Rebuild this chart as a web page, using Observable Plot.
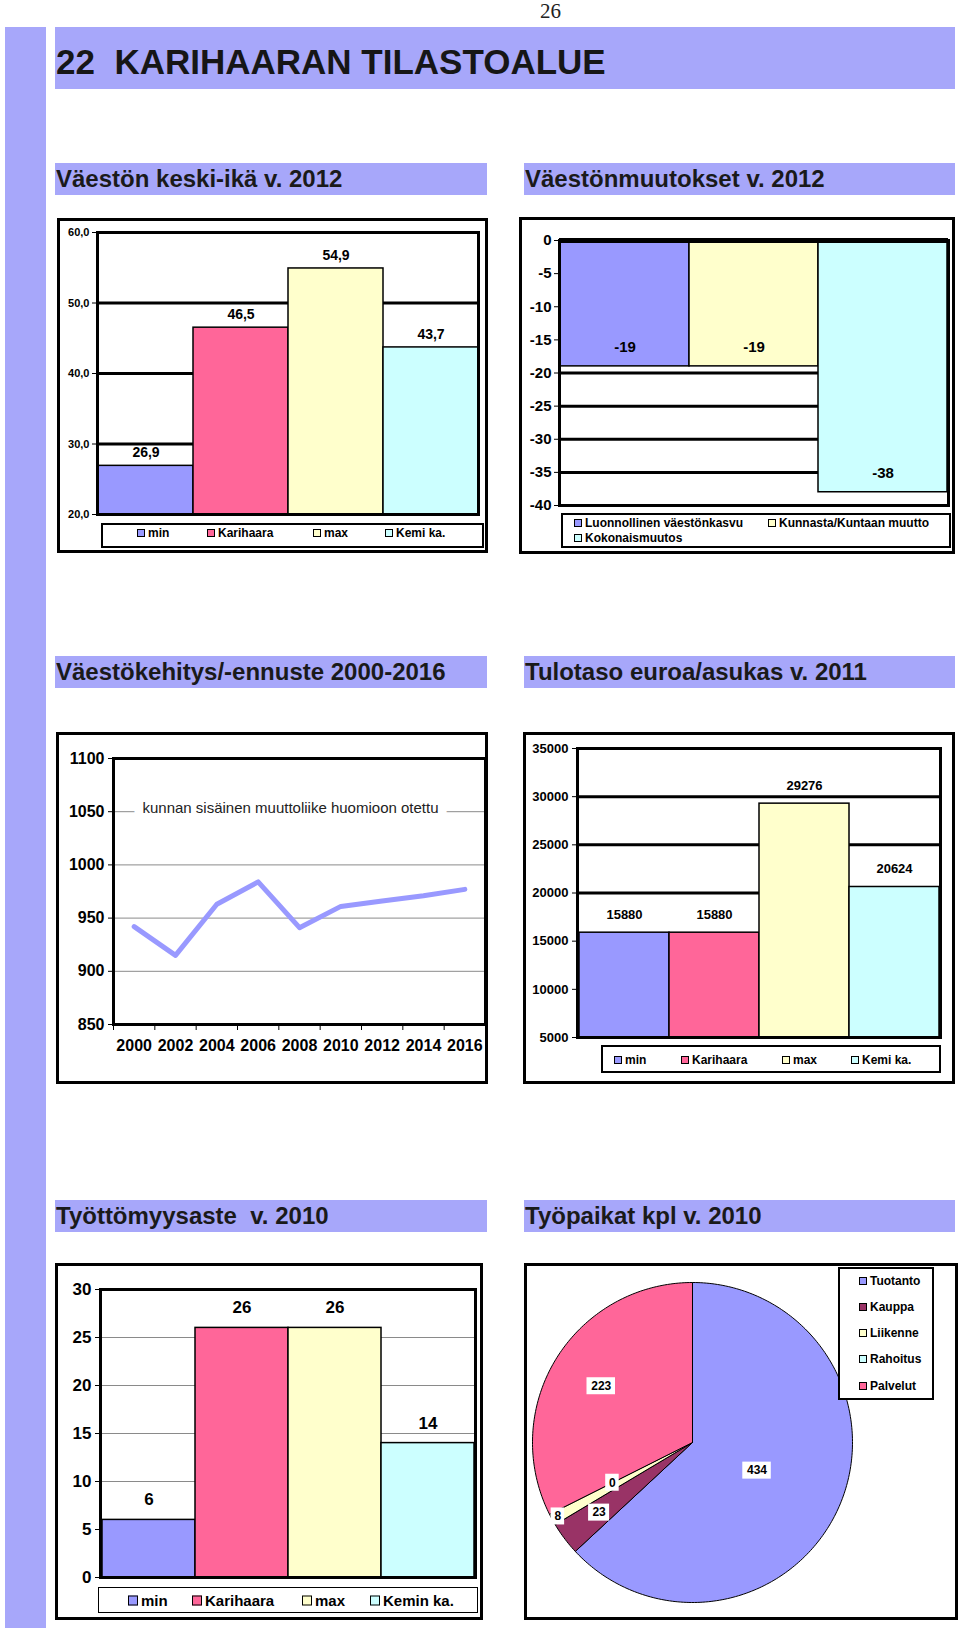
<!DOCTYPE html>
<html><head><meta charset="utf-8">
<script src="https://cdn.jsdelivr.net/npm/d3@7"></script>
<script src="https://cdn.jsdelivr.net/npm/@observablehq/plot@0.6"></script>
<style>
body{margin:0;background:#fff;}
#page{position:relative;width:960px;height:1628px;overflow:hidden;font-family:"Liberation Sans",Arial,sans-serif;background:#fff;}
.band{position:absolute;background:#a7a7fa;}
.title{position:absolute;left:55px;top:27px;width:900px;height:62px;background:#a7a7fa;font-weight:bold;font-size:35px;line-height:70px;color:#161616;padding-left:1px;box-sizing:border-box;white-space:nowrap;overflow:hidden;}
.sec{position:absolute;background:#a7a7fa;height:32px;font-weight:bold;font-size:24px;line-height:32px;color:#1a1a1a;padding-left:1px;box-sizing:border-box;white-space:nowrap;overflow:hidden;}
.box{position:absolute;border:3px solid #000;box-sizing:border-box;pointer-events:none;}
.chart{position:absolute;}
.legend{position:absolute;border:2px solid #000;box-sizing:border-box;background:#fff;font-weight:bold;font-size:12px;color:#000;}
.item{position:absolute;white-space:nowrap;display:flex;align-items:center;transform:translateY(-50%);}
.sw{display:inline-block;width:6px;height:6px;border:1px solid #000;margin-right:3px;}
#pagenum{position:absolute;left:540px;top:0px;font-family:"Liberation Serif","DejaVu Serif",serif;font-size:21px;line-height:22px;color:#222;}
</style></head>
<body>
<div id="page">
  <div id="pagenum">26</div>
  <div class="band" style="left:5px;top:27px;width:41px;height:1601px;"></div>
  <div class="title">22&nbsp;&nbsp;KARIHAARAN TILASTOALUE</div>

  <div class="sec" style="left:55px;top:163px;width:432px;">Väestön keski-ikä v. 2012</div>
  <div class="sec" style="left:524px;top:163px;width:431px;">Väestönmuutokset v. 2012</div>
  <div class="sec" style="left:55px;top:656px;width:432px;">Väestökehitys/-ennuste 2000-2016</div>
  <div class="sec" style="left:524px;top:656px;width:431px;">Tulotaso euroa/asukas v. 2011</div>
  <div class="sec" style="left:55px;top:1200px;width:432px;">Työttömyysaste&nbsp; v. 2010</div>
  <div class="sec" style="left:524px;top:1200px;width:431px;">Työpaikat kpl v. 2010</div>

  <div class="chart" id="c1" style="left:57px;top:218px;"></div>
  <div class="chart" id="c2" style="left:519px;top:217px;"></div>
  <div class="chart" id="c3" style="left:56px;top:732px;"></div>
  <div class="chart" id="c4" style="left:523px;top:732px;"></div>
  <div class="chart" id="c5" style="left:55px;top:1263px;"></div>
  <div class="chart" id="c6" style="left:524px;top:1263px;"></div>

  <div class="legend" id="l1" style="left:101px;top:523px;width:383px;height:25px;"></div>
  <div class="legend" id="l2" style="left:561px;top:513px;width:390px;height:35px;"></div>
  <div class="legend" id="l4" style="left:601px;top:1045px;width:340px;height:28px;"></div>
  <div class="legend" id="l5" style="left:98px;top:1587px;width:380px;height:26px;border-width:1.5px;font-size:15px;"></div>
  <div class="legend" id="l6" style="left:838px;top:1267px;width:96px;height:133px;"></div>

  <div class="box" style="left:57px;top:218px;width:431px;height:335px;"></div>
  <div class="box" style="left:519px;top:217px;width:436px;height:337px;"></div>
  <div class="box" style="left:56px;top:732px;width:432px;height:352px;"></div>
  <div class="box" style="left:523px;top:732px;width:432px;height:352px;"></div>
  <div class="box" style="left:55px;top:1263px;width:428px;height:357px;"></div>
  <div class="box" style="left:524px;top:1263px;width:434px;height:357px;"></div>
</div>
<script>
// ---------- DATA ----------
const ageCats = ["min", "Karihaara", "max", "Kemi ka."];
const ageValues = [26.9, 46.5, 54.9, 43.7];
const ageTicks = [20, 30, 40, 50, 60];

const changeCats = ["Luonnollinen väestönkasvu", "Kunnasta/Kuntaan muutto", "Kokonaismuutos"];
const changeValues = [-19, -19, -38];
const changeTicks = [0, -5, -10, -15, -20, -25, -30, -35, -40];

const popYears = [2000, 2002, 2004, 2006, 2008, 2010, 2012, 2014, 2016];
const popValues = [942, 915, 963, 984, 941, 961, 966, 971, 977];
const popTicks = [850, 900, 950, 1000, 1050, 1100];
const popNote = "kunnan sisäinen muuttoliike huomioon otettu";

const incomeCats = ["min", "Karihaara", "max", "Kemi ka."];
const incomeValues = [15880, 15880, 29276, 20624];
const incomeTicks = [5000, 10000, 15000, 20000, 25000, 30000, 35000];

const unempCats = ["min", "Karihaara", "max", "Kemin ka."];
const unempValues = [6, 26, 26, 14];
const unempTicks = [0, 5, 10, 15, 20, 25, 30];

const jobCats = ["Tuotanto", "Kauppa", "Liikenne", "Rahoitus", "Palvelut"];
const jobValues = [434, 23, 8, 0, 223];

// ---------- STYLE ----------
const col4 = ["#9999ff", "#ff6699", "#ffffcc", "#ccffff"];
const col3 = ["#9999ff", "#ffffcc", "#ccffff"];
const jobColors = ["#9999ff", "#993366", "#ffffcc", "#ccffff", "#ff6699"];
const jobLabelRadius = [0.44, 0.73, 0.96, 0.56, 0.67];
const arial = "'Liberation Sans', Arial, sans-serif";
const baseStyle = (fs, fam) => ({fontFamily: fam || arial, fontWeight: "bold", fontSize: fs + "px", background: "transparent", overflow: "visible", color: "#000"});
const fmtFi1 = d => d.toFixed(1).replace(".", ",");

function legend(id, cats, colors, pos, sw) {
  const el = document.getElementById(id);
  cats.forEach((c, i) => {
    const it = document.createElement("div");
    it.className = "item";
    it.style.left = pos[i][0] + "px";
    it.style.top = pos[i][1] + "px";
    const s = document.createElement("span");
    s.className = "sw";
    s.style.background = colors[i];
    if (sw) { s.style.width = sw + "px"; s.style.height = sw + "px"; }
    it.appendChild(s);
    it.appendChild(document.createTextNode(c));
    el.appendChild(it);
  });
}

// ---------- CHART 1 ----------
const ageData = ageCats.map((c, i) => ({cat: c, v: ageValues[i]}));
document.getElementById("c1").appendChild(Plot.plot({
  width: 431, height: 335, marginLeft: 40, marginRight: 10, marginTop: 14, marginBottom: 39,
  style: baseStyle(11),
  x: {domain: ageCats, padding: 0, axis: null},
  y: {domain: [20, 60]},
  color: {domain: ageCats, range: col4},
  marks: [
    Plot.ruleY(ageTicks.slice(1, -1), {stroke: "#000", strokeWidth: 3}),
    Plot.barY(ageData, {x: "cat", y1: 20, y2: "v", fill: "cat", stroke: "#000", strokeWidth: 1.5}),
    Plot.text(ageData, {x: "cat", y: "v", text: d => fmtFi1(d.v), dy: -13, fontSize: 14}),
    Plot.axisY({ticks: ageTicks, tickFormat: fmtFi1, tickSize: 5, tickPadding: 3, label: null}),
    Plot.frame({stroke: "#000", strokeWidth: 3})
  ]
}));
legend("l1", ageCats, col4, [[34, 8], [104, 8], [210, 8], [282, 8]]);

// ---------- CHART 2 ----------
const changeData = changeCats.map((c, i) => ({cat: c, v: changeValues[i]}));
document.getElementById("c2").appendChild(Plot.plot({
  width: 436, height: 337, marginLeft: 40, marginRight: 7, marginTop: 23, marginBottom: 49,
  style: baseStyle(15),
  x: {domain: changeCats, padding: 0, axis: null},
  y: {domain: [-40, 0]},
  color: {domain: changeCats, range: col3},
  marks: [
    Plot.ruleY(changeTicks.slice(1, -1), {stroke: "#000", strokeWidth: 3}),
    Plot.barY(changeData, {x: "cat", y1: 0, y2: "v", fill: "cat", stroke: "#000", strokeWidth: 1.5}),
    Plot.text(changeData, {x: "cat", y: "v", text: d => String(d.v), dy: -19, fontSize: 15}),
    Plot.axisY({ticks: changeTicks, tickFormat: d => String(d), tickSize: 5, tickPadding: 3, label: null}),
    Plot.frame({stroke: "#000", strokeWidth: 3}),
    Plot.ruleY([0], {stroke: "#000", strokeWidth: 5})
  ]
}));
legend("l2", changeCats, col3, [[11, 8], [205, 8], [11, 23]]);

// ---------- CHART 3 ----------
const popData = popYears.map((y, i) => ({year: y, v: popValues[i]}));
const bandEdges = popYears.map(y => y - 1).concat([popYears[popYears.length - 1] + 1]);
document.getElementById("c3").appendChild(Plot.plot({
  width: 432, height: 352, marginLeft: 57, marginRight: 3, marginTop: 26, marginBottom: 60,
  style: baseStyle(16),
  x: {domain: [bandEdges[0], bandEdges[bandEdges.length - 1]]},
  y: {domain: [850, 1100]},
  marks: [
    Plot.ruleY(popTicks.slice(1, -1), {stroke: "#8a8a8a", strokeWidth: 1}),
    Plot.text([popNote], {frameAnchor: "top", dx: -9, dy: 44, text: d => d, fontSize: 15, fontWeight: "normal", fill: "#222", stroke: "white", strokeWidth: 18}),
    Plot.line(popData, {x: "year", y: "v", stroke: "#9999ff", strokeWidth: 5}),
    Plot.axisY({ticks: popTicks, tickFormat: d => String(d), tickSize: 5, tickPadding: 4, label: null}),
    Plot.axisX({ticks: popYears, tickFormat: d => String(d), tickSize: 0, tickPadding: 15, label: null}),
    Plot.axisX({ticks: bandEdges, tickFormat: () => "", tickSize: 6, label: null}),
    Plot.frame({stroke: "#000", strokeWidth: 3})
  ]
}));

// ---------- CHART 4 ----------
const incomeData = incomeCats.map((c, i) => ({cat: c, v: incomeValues[i]}));
document.getElementById("c4").appendChild(Plot.plot({
  width: 432, height: 352, marginLeft: 54, marginRight: 15, marginTop: 16, marginBottom: 47,
  style: baseStyle(13),
  x: {domain: incomeCats, padding: 0, axis: null},
  y: {domain: [5000, 35000]},
  color: {domain: incomeCats, range: col4},
  marks: [
    Plot.ruleY(incomeTicks.slice(1, -1), {stroke: "#000", strokeWidth: 3}),
    Plot.barY(incomeData, {x: "cat", y1: 5000, y2: "v", fill: "cat", stroke: "#000", strokeWidth: 1.5}),
    Plot.text(incomeData, {x: "cat", y: "v", text: d => String(d.v), dy: -18, fontSize: 13}),
    Plot.axisY({ticks: incomeTicks, tickFormat: d => String(d), tickSize: 5, tickPadding: 4, label: null}),
    Plot.frame({stroke: "#000", strokeWidth: 3})
  ]
}));
legend("l4", incomeCats, col4, [[11, 13], [78, 13], [179, 13], [248, 13]]);

// ---------- CHART 5 ----------
const unempData = unempCats.map((c, i) => ({cat: c, v: unempValues[i]}));
document.getElementById("c5").appendChild(Plot.plot({
  width: 428, height: 357, marginLeft: 45, marginRight: 8, marginTop: 26, marginBottom: 43,
  style: baseStyle(17),
  x: {domain: unempCats, padding: 0, axis: null},
  y: {domain: [0, 30]},
  color: {domain: unempCats, range: col4},
  marks: [
    Plot.ruleY(unempTicks.slice(1, -1), {stroke: "#8a8a8a", strokeWidth: 1}),
    Plot.barY(unempData, {x: "cat", y1: 0, y2: "v", fill: "cat", stroke: "#000", strokeWidth: 1.5}),
    Plot.text(unempData, {x: "cat", y: "v", text: d => String(d.v), dy: -20, fontSize: 17}),
    Plot.axisY({ticks: unempTicks, tickSize: 5, tickPadding: 4, label: null}),
    Plot.frame({stroke: "#000", strokeWidth: 3})
  ]
}));
legend("l5", unempCats, col4, [[29, 12], [93, 12], [203, 12], [271, 12]], 8);

// ---------- CHART 6 (pie) ----------
const jobData = jobCats.map((c, i) => ({cat: c, v: jobValues[i]}));
const arcs = d3.pie().sort(null).value(d => d.v)(jobData);
const slicePts = [];
arcs.forEach(a => {
  const span = a.endAngle - a.startAngle;
  if (span <= 0) return;
  const n = Math.max(2, Math.ceil(span / (Math.PI / 180)));
  slicePts.push({cat: a.data.cat, x: 0, y: 0});
  for (let i = 0; i <= n; i++) {
    const t = a.startAngle + span * i / n;
    slicePts.push({cat: a.data.cat, x: Math.sin(t), y: Math.cos(t)});
  }
  slicePts.push({cat: a.data.cat, x: 0, y: 0});
});
const pxPerUnit = 160;
const labelData = arcs.map((a, i) => {
  const m = (a.startAngle + a.endAngle) / 2;
  const r = jobLabelRadius[i];
  const t = String(a.data.v);
  return {text: t, x: Math.sin(m) * r, y: Math.cos(m) * r, hw: (t.length * 7.5 + 6) / 2 / pxPerUnit};
});
const hh = 8.5 / pxPerUnit;
document.getElementById("c6").appendChild(Plot.plot({
  width: 434, height: 357, marginLeft: 8, marginRight: 106, marginTop: 19, marginBottom: 18,
  style: baseStyle(12),
  x: {domain: [-1, 1], axis: null},
  y: {domain: [-1, 1], axis: null},
  color: {domain: jobCats, range: jobColors},
  marks: [
    Plot.line(slicePts, {x: "x", y: "y", z: "cat", fill: "cat", stroke: "#000", strokeWidth: 1}),
    Plot.rect(labelData, {x1: d => d.x - d.hw, x2: d => d.x + d.hw, y1: d => d.y - hh, y2: d => d.y + hh, fill: "white"}),
    Plot.text(labelData, {x: "x", y: "y", text: "text", fontSize: 12})
  ]
}));
legend("l6", jobCats, jobColors, [[19, 12], [19, 38], [19, 64], [19, 90], [19, 117]]);
</script>
</body></html>
